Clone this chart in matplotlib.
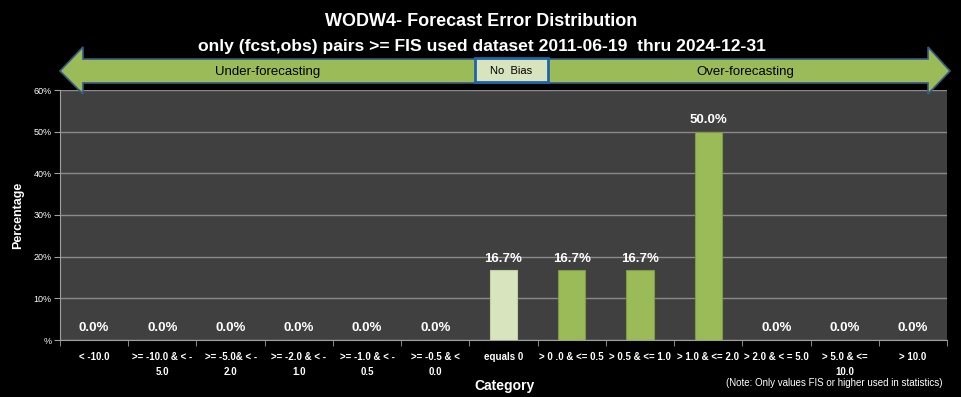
import matplotlib
matplotlib.use('Agg')
import matplotlib.pyplot as plt
from matplotlib.patches import Polygon, Rectangle
import numpy as np

categories = ["< -10.0", ">= -10.0 & < -\n5.0", ">= -5.0& < -\n2.0", ">= -2.0 & < -\n1.0",
              ">= -1.0 & < -\n0.5", ">= -0.5 & <\n0.0", "equals 0", "> 0 .0 & <= 0.5",
              "> 0.5 & <= 1.0", "> 1.0 & <= 2.0", "> 2.0 & < = 5.0", "> 5.0 & <=\n10.0", "> 10.0"]
percent = [0.0, 0.0, 0.0, 0.0, 0.0, 0.0, 16.7, 16.7, 16.7, 50.0, 0.0, 0.0, 0.0]
y_ticks = [0, 10, 20, 30, 40, 50, 60]
y_labels = ["%", "10%", "20%", "30%", "40%", "50%", "60%"]

plt.rcParams['font.family'] = ['Liberation Sans', 'DejaVu Sans']

W, H = 961, 397
fig = plt.figure(figsize=(W / 100, H / 100), dpi=100, facecolor='black')
ax = fig.add_axes([60 / W, 1 - 340 / H, 887 / W, 250 / H])
ax.set_facecolor('#404040')

x = np.arange(len(categories))
colors = ['#d7e4bd' if c == "equals 0" else '#9bbb59' for c in categories]
edges = ['#c0d0a0' if c == "equals 0" else '#7e9a45' for c in categories]
bars = ax.bar(x, percent, width=0.4, color=colors, edgecolor=edges, linewidth=0.8, zorder=3)
for b, v in zip(bars, percent):
    ax.annotate(f"{v:.1f}%", (b.get_x() + b.get_width() / 2, v), xytext=(0, 4),
                textcoords='offset points', ha='center', va='bottom',
                color='white', fontsize=9.5, fontweight='bold')

ax.set_xlim(-0.5, len(categories) - 0.5)
ax.set_ylim(0, 60)
ax.set_yticks(y_ticks)
ax.set_yticklabels(y_labels, color='white', fontsize=6.5)
ax.yaxis.grid(True, color='#8a8a8a', linewidth=1, zorder=0)
ax.set_xticks(x)
ax.set_xticklabels(categories, color='white', fontsize=7, fontweight='bold', linespacing=1.6)
ax.set_xticks(np.arange(-0.5, len(categories), 1), minor=True)
ax.tick_params(axis='x', which='major', length=0, pad=9)
ax.tick_params(axis='x', which='minor', length=4, color='#a0a0a0')
ax.tick_params(axis='y', length=4, color='#a0a0a0', pad=2)
for s in ['top', 'right']:
    ax.spines[s].set_visible(False)
for s in ['left', 'bottom']:
    ax.spines[s].set_color('#a0a0a0')

ax.set_ylabel("Percentage", color='white', fontsize=9, fontweight='bold', labelpad=7)
fig.text(505 / W, 1 - 386 / H, "Category", color='white', fontsize=10, fontweight='bold',
         ha='center', va='center')
fig.text(943 / W, 1 - 383 / H, "(Note: Only values FIS or higher used in statistics)",
         color='white', fontsize=7, ha='right', va='center')

fig.text(481 / W, 1 - 21 / H, "WODW4- Forecast Error Distribution", color='white',
         fontsize=13, fontweight='bold', ha='center', va='center')
fig.text(482 / W, 1 - 46 / H, "only (fcst,obs) pairs >= FIS used dataset 2011-06-19  thru 2024-12-31",
         color='white', fontsize=12.6, fontweight='bold', ha='center', va='center')

# double headed arrow, drawn in pixel coordinates of the figure
pts = [(60, 71), (83, 47), (83, 59), (928, 59), (928, 47), (950, 71),
       (928, 94), (928, 83), (83, 83), (83, 94)]
arrow = Polygon([(px / W, 1 - py / H) for px, py in pts], closed=True,
                transform=fig.transFigure, facecolor='#9bbb59', edgecolor='#355a85',
                linewidth=1.2, zorder=5)
fig.patches.append(arrow)
box = Rectangle((475 / W, 1 - 82 / H), 73 / W, 24 / H, transform=fig.transFigure,
                facecolor='#d7e4bd', edgecolor='#1f64a8', linewidth=2, zorder=6)
fig.patches.append(box)
fig.text(511 / W, 1 - 71 / H, "No  Bias", color='black', fontsize=8, ha='center', va='center', zorder=7)
fig.text(268 / W, 1 - 72 / H, "Under-forecasting", color='black', fontsize=9.5, ha='center', va='center', zorder=7)
fig.text(745 / W, 1 - 72 / H, "Over-forecasting", color='black', fontsize=9.5, ha='center', va='center', zorder=7)

fig.savefig('out.png', dpi=100, facecolor='black')
